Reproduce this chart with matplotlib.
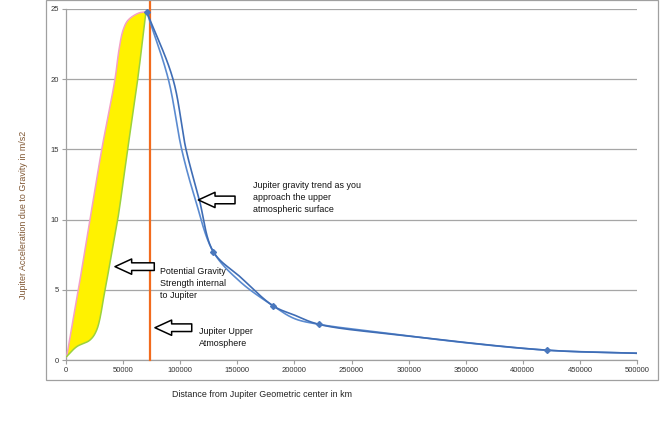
import matplotlib.pyplot as plt
from matplotlib.patches import FancyArrowPatch, Rectangle
import numpy as np

plt.rcParams['font.family'] = ['Liberation Sans', 'DejaVu Sans']

# inside Jupiter: the two edges of the yellow band
pink_x = [600, 10800, 21000, 31300, 42900, 46400, 50000, 54300, 63300, 70000]
pink_y = [0.25, 5.0, 10.0, 15.0, 20.0, 22.1, 23.5, 24.2, 24.7, 24.8]
green_x = [600, 9400, 21000, 26900, 34200, 40000, 45300, 54000, 62800, 70000]
green_y = [0.25, 0.95, 1.42, 2.14, 5.0, 7.6, 10.0, 15.0, 20.0, 24.8]

# outside Jupiter: two blue trend lines
a_x = [70700, 93700, 105100, 116500, 129000, 152400, 181500, 200000, 221500, 300000, 421000, 500000]
a_y = [24.8, 20.0, 15.0, 11.5, 7.71, 5.93, 3.85, 3.2, 2.54, 1.71, 0.70, 0.48]
b_x = [70700, 89600, 101300, 113000, 129000, 152400, 181500, 200000, 221500, 275000, 350000, 421000, 500000]
b_y = [24.8, 20.0, 15.0, 11.5, 7.71, 5.58, 3.85, 2.95, 2.54, 1.97, 1.23, 0.70, 0.48]
# marked points
mark_x = [70700, 129000, 181500, 221500, 421000]
mark_y = [24.8, 7.71, 3.85, 2.54, 0.70]

surface_x = 73500

xticks = [0, 50000, 100000, 150000, 200000, 250000, 300000, 350000, 400000, 450000, 500000]
yticks = [0, 5, 10, 15, 20, 25]

XMAX, YMAX = 500000, 25
W, H = 571, 351  # plot area in pixels


def smooth(xs, ys, n=30):
    # excel style smoothed line, centripetal catmull-rom in screen units
    p = np.column_stack([np.asarray(xs, float) / XMAX * W, np.asarray(ys, float) / YMAX * H])
    pts = np.vstack([2 * p[0] - p[1], p, 2 * p[-1] - p[-2]])
    out = []
    for i in range(1, len(pts) - 2):
        p0, p1, p2, p3 = pts[i - 1], pts[i], pts[i + 1], pts[i + 2]
        t0 = 0.0
        t1 = t0 + np.linalg.norm(p1 - p0) ** 0.5
        t2 = t1 + np.linalg.norm(p2 - p1) ** 0.5
        t3 = t2 + np.linalg.norm(p3 - p2) ** 0.5
        t = np.linspace(t1, t2, n, endpoint=False)[:, None]
        a1 = (t1 - t) / (t1 - t0) * p0 + (t - t0) / (t1 - t0) * p1
        a2 = (t2 - t) / (t2 - t1) * p1 + (t - t1) / (t2 - t1) * p2
        a3 = (t3 - t) / (t3 - t2) * p2 + (t - t2) / (t3 - t2) * p3
        b1 = (t2 - t) / (t2 - t0) * a1 + (t - t0) / (t2 - t0) * a2
        b2 = (t3 - t) / (t3 - t1) * a2 + (t - t1) / (t3 - t1) * a3
        out.append((t2 - t) / (t2 - t1) * b1 + (t - t1) / (t2 - t1) * b2)
    out.append(p[-1:])
    s = np.vstack(out)
    return s[:, 0] / W * XMAX, s[:, 1] / H * YMAX


fig = plt.figure(figsize=(6.6, 4.44), dpi=100)
fig.patches.append(Rectangle((46 / 660, 64 / 444), 612 / 660, 380 / 444 - 0.001,
                             transform=fig.transFigure, fill=False, ec='#a0a0a0', lw=0.9))
ax = fig.add_axes([66 / 660, 84 / 444, W / 660, H / 444])

px, py = smooth(pink_x, pink_y)
gx, gy = smooth(green_x, green_y)
ax.fill(np.concatenate([px, gx[::-1]]), np.concatenate([py, gy[::-1]]), color='#fff200', lw=0, zorder=2)
ax.plot(px, py, color='#f4a0c8', lw=1.1, zorder=3)
ax.plot(gx, gy, color='#9cd23c', lw=1.1, zorder=3)

# surface line runs up to the chart frame
ax.axvline(surface_x, ymin=0, ymax=1 + 9 / H, color='#f26b1d', lw=1.6, zorder=4, clip_on=False)

sx, sy = smooth(b_x, b_y)
ax.plot(sx, sy, color='#5b8bd0', lw=1.2, zorder=5)
sx, sy = smooth(a_x, a_y)
ax.plot(sx, sy, color='#3f6db5', lw=1.2, zorder=5)
ax.plot(mark_x, mark_y, ls='none', marker='D', ms=3, color='#4a78bd', zorder=6)

ax.set_xlim(0, XMAX)
ax.set_ylim(0, YMAX)
ax.set_xticks(xticks)
ax.set_yticks(yticks)
ax.tick_params(labelsize=5.5, colors='#333333', length=3, width=0.8, pad=2)
ax.tick_params(axis='both', color='#a0a0a0')
ax.grid(axis='y', color='#a6a6a6', lw=0.9)
ax.set_axisbelow(True)
for s in ['top', 'right']:
    ax.spines[s].set_visible(False)
for s in ['left', 'bottom']:
    ax.spines[s].set_color('#a0a0a0')
    ax.spines[s].set_linewidth(0.9)

fig.text(262 / 660, 1 - 394 / 444, 'Distance from Jupiter Geometric center in km',
         ha='center', va='center', fontsize=6.4, color='#222222')
fig.text(24 / 660, 1 - 214.5 / 444, 'Jupiter Acceleration due to Gravity in m/s2',
         ha='center', va='center', rotation=90, fontsize=6.4, color='#7f5632')

txt = dict(fontsize=6.4, color='#111111', va='center', ha='left', linespacing=1.42)
ax.text(163500, 11.56, 'Jupiter gravity trend as you\napproach the upper\natmospheric surface', **txt)
ax.text(82300, 5.46, 'Potential Gravity\nStrength internal\nto Jupiter', **txt)
ax.text(116500, 1.57, 'Jupiter Upper\nAtmosphere', **txt)

arrows = [((148000, 11.40), (115900, 11.40)),
          ((77300, 6.65), (42900, 6.65)),
          ((110100, 2.30), (77900, 2.30))]
for tail, tip in arrows:
    ax.add_patch(FancyArrowPatch(tail, tip, arrowstyle='simple,head_length=1.2,head_width=1.1,tail_width=0.55',
                                 mutation_scale=10, fc='white', ec='black', lw=1.1,
                                 shrinkA=0, shrinkB=0, zorder=7))

fig.savefig('out.png', dpi=100)
